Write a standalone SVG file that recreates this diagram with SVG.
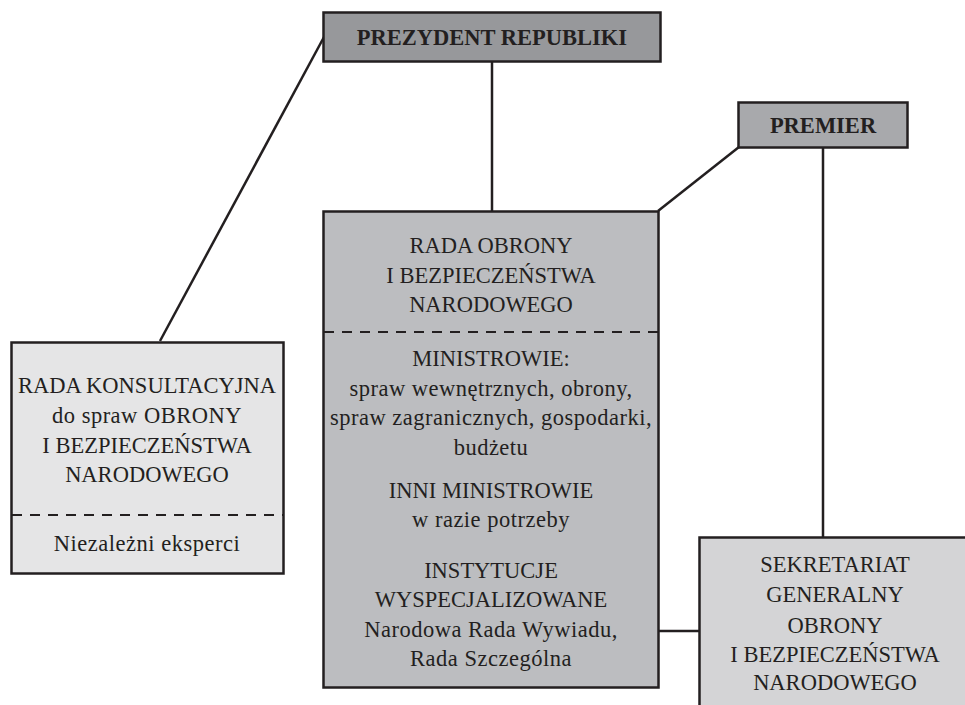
<svg xmlns="http://www.w3.org/2000/svg" width="965" height="705" viewBox="0 0 965 705">
<style>
.box{stroke:#231f20;stroke-width:2.5}
.ln{stroke:#231f20;stroke-width:2.5;fill:none}
.dash{stroke:#231f20;stroke-width:2.2;stroke-dasharray:10 8;fill:none}
text{font-family:"Liberation Serif","DejaVu Serif",serif;font-size:22.5px;fill:#231f20;text-anchor:middle}
.b{font-weight:bold;font-size:22.5px}
.lc{letter-spacing:0.5px}
</style>
<rect width="965" height="705" fill="#ffffff"/>
<g id="connectors">
<line class="ln" x1="492" y1="61" x2="492" y2="211"/>
<line class="ln" x1="324" y1="37" x2="160" y2="341"/>
<line class="ln" x1="739" y1="147" x2="658" y2="211"/>
<line class="ln" x1="823" y1="147" x2="823" y2="537"/>
<line class="ln" x1="658" y1="631" x2="699" y2="631"/>
</g>
<g id="prezydent">
<rect class="box" x="323.5" y="12.5" width="337" height="49" fill="#97989b"/>
<text class="b" x="492" y="45">PREZYDENT REPUBLIKI</text>
</g>
<g id="premier">
<rect class="box" x="738.5" y="102.5" width="169" height="45" fill="#a8a9ac"/>
<text class="b" x="823" y="133">PREMIER</text>
</g>
<g id="rada-obrony">
<rect class="box" x="323.5" y="211.5" width="335" height="476" fill="#bcbdc0"/>
<line class="dash" x1="324" y1="332" x2="658" y2="332"/>
<text x="491" y="253">RADA OBRONY</text>
<text x="491" y="283">I BEZPIECZEŃSTWA</text>
<text x="491" y="312">NARODOWEGO</text>
<text x="491" y="366">MINISTROWIE:</text>
<text class="lc" x="491" y="396">spraw wewnętrznych, obrony,</text>
<text class="lc" x="491" y="425">spraw zagranicznych, gospodarki,</text>
<text class="lc" x="491" y="455">budżetu</text>
<text x="491" y="498">INNI MINISTROWIE</text>
<text class="lc" x="491" y="527">w razie potrzeby</text>
<text x="491" y="578">INSTYTUCJE</text>
<text x="491" y="607">WYSPECJALIZOWANE</text>
<text class="lc" x="491" y="637">Narodowa Rada Wywiadu,</text>
<text class="lc" x="491" y="666">Rada Szczególna</text>
</g>
<g id="rada-konsultacyjna">
<rect class="box" x="11.5" y="342.5" width="272" height="231" fill="#e5e5e6"/>
<line class="dash" x1="12" y1="515" x2="283" y2="515"/>
<text x="147" y="393">RADA KONSULTACYJNA</text>
<text class="lc" x="147" y="423">do spraw OBRONY</text>
<text x="147" y="453">I BEZPIECZEŃSTWA</text>
<text x="147" y="482">NARODOWEGO</text>
<text class="lc" x="147" y="551">Niezależni eksperci</text>
</g>
<g id="sekretariat">
<rect class="box" x="699.5" y="537.5" width="280" height="180" fill="#d4d4d6"/>
<text x="835" y="572">SEKRETARIAT</text>
<text x="835" y="602">GENERALNY</text>
<text x="835" y="633">OBRONY</text>
<text x="835" y="662">I BEZPIECZEŃSTWA</text>
<text x="835" y="690">NARODOWEGO</text>
</g>
</svg>
